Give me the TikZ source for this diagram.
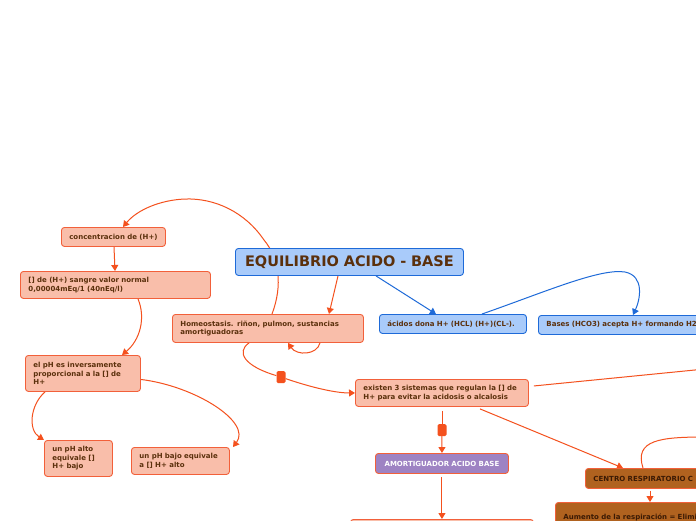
\documentclass[tikz,border=0pt]{standalone}
\usepackage{fontspec}
\setmainfont{DejaVu Sans}
\usetikzlibrary{arrows.meta, backgrounds}

\definecolor{salmon}{HTML}{F9BEAA}
\definecolor{borde}{HTML}{F2603A}
\definecolor{linea}{HTML}{F4511E}
\definecolor{azulclaro}{HTML}{A9CBFA}
\definecolor{azul}{HTML}{1E6AD8}
\definecolor{morado}{HTML}{9E83C3}
\definecolor{cafe}{HTML}{B0621F}
\definecolor{texto}{HTML}{5B300C}
\definecolor{textocafe}{HTML}{3B1A04}

\tikzset{
  caja/.style={draw=borde, fill=salmon, line width=0.9pt, rounded corners=3pt,
    anchor=north west, inner xsep=8pt, inner ysep=0pt, align=left,
    text=texto, font=\fontsize{7}{8.5}\selectfont\bfseries},
  cajaazul/.style={caja, draw=azul, fill=azulclaro},
  cajamorada/.style={caja, fill=morado, text=white, align=center},
  cajacafe/.style={caja, fill=cafe, text=textocafe},
  marca/.style={fill=linea, rounded corners=1.5pt, inner sep=0pt,
    minimum width=9pt, minimum height=12pt},
  conector/.style={draw=linea, line width=1pt, -{Triangle[length=6pt,width=7pt]}},
  conectorazul/.style={conector, draw=azul, -{Triangle[length=6pt,width=7pt]}},
}

\begin{document}
\begin{tikzpicture}[x=1pt, y=-1pt]

  % 1. Marco de la imagen (696 x 520)
  \clip (0,0) rectangle (696,520);

  % 2. Cajas de texto
  \node[cajaazul, text width=212pt, minimum height=27pt, align=center,
    font=\fontsize{14.5}{16}\selectfont\bfseries] (titulo) at (235,248)
    {EQUILIBRIO ACIDO - BASE};
  \node[caja, inner xsep=5pt, text width=94pt, minimum height=19pt, align=center] (concentracion) at (61,227)
    {concentracion de (H+)};
  \node[caja, text width=174pt, minimum height=27pt] (valor) at (20,271)
    {[] de (H+) sangre valor normal\\0,00004mEq/1 (40nEq/l)};
  \node[caja, text width=175pt, minimum height=28pt] (homeostasis) at (172,314)
    {Homeostasis. riñon, pulmon, sustancias\\amortiguadoras};
  \node[caja, text width=99pt, minimum height=36pt] (ph) at (25,355)
    {el pH es inversamente\\proporcional a la [] de\\H+};
  \node[caja, text width=52pt, minimum height=36pt] (phalto) at (44,440)
    {un pH alto\\equivale []\\H+ bajo};
  \node[caja, text width=82pt, minimum height=27pt] (phbajo) at (131,447)
    {un pH bajo equivale\\a [] H+ alto};
  \node[caja, text width=157pt, minimum height=27pt] (sistemas) at (355,379)
    {existen 3 sistemas que regulan la [] de\\H+ para evitar la acidosis o alcalosis};
  \node[cajamorada, text width=117pt, minimum height=20pt] (amortiguador) at (375,453)
    {AMORTIGUADOR ACIDO BASE};
  \node[caja, text width=167pt, minimum height=20pt] (inferior) at (350,519) {};
  \node[cajacafe, text width=150pt, minimum height=20pt] (centro) at (585,468)
    {CENTRO RESPIRATORIO C};
  \node[cajacafe, text width=190pt, minimum height=40pt] (aumento) at (555,502)
    {Aumento de la respiración = Elimi\\ \strut};

  % azules
  \node[cajaazul, text width=131pt, minimum height=19pt] (acidos) at (379,314)
    {ácidos dona H+ (HCL) (H+)(CL-).};
  \node[cajaazul, text width=190pt, minimum height=19pt] (bases) at (538,315)
    {Bases (HCO3) acepta H+ formando H2};

  % marcas cuadradas
  \node[marca] (marca1) at (281,377) {};
  \node[marca] (marca2) at (442,430) {};

  % salidas fuera del cuadro
  \coordinate (salida1) at (705,369);
  \coordinate (salida2) at (705,437);

  % 3. Conectores (detras de las cajas)
  \begin{scope}[on background layer]
  \fill[white] (0,0) rectangle (696,520);
  \draw[conector] ([xshift=100pt]homeostasis.north west)
    .. controls (283,285) and (279,258) .. (264,240)
    .. controls (245,212) and (215,198) .. (185,199)
    .. controls (160,200) and (137,210) .. ([xshift=62pt]concentracion.north west);
  \draw[conector] ([xshift=53pt]concentracion.south west) -- ([xshift=95pt]valor.north west);
  \draw[conector] ([xshift=118pt]valor.south west)
    .. controls (146,318) and (140,340) .. ([xshift=97pt]ph.north west);
  \draw[conector] ([xshift=20pt]ph.south west)
    .. controls (30,405) and (28,430) .. (phalto.north west);
  \draw[conector] ([yshift=-6pt]ph.east)
    .. controls (195,386) and (252,422) .. ([xshift=102pt]phbajo.north west);
  \draw[conector] ([xshift=148pt]homeostasis.south west)
    .. controls (317,355) and (297,356) .. ([xshift=116pt]homeostasis.south west);
  \draw[draw=linea, line width=1pt] ([xshift=77pt]homeostasis.south west)
    .. controls (236,352) and (244,366) .. (marca1);
  \draw[conector] (marca1) .. controls (310,387) and (335,393) .. (sistemas.west);
  \draw[draw=linea, line width=1pt] ([xshift=87pt,yshift=-4pt]sistemas.south west) -- (marca2);
  \draw[conector] (marca2) -- (amortiguador.north);
  \draw[conector] ([yshift=-3pt]amortiguador.south) -- (inferior.north);
  \draw[conector] ([xshift=125pt,yshift=-2pt]sistemas.south west) -- ([xshift=38pt]centro.north west);
  \draw[draw=linea, line width=1pt] ([xshift=5pt,yshift=7pt]sistemas.east) -- (salida1);
  \draw[draw=linea, line width=1pt] ([xshift=58pt]centro.north west)
    .. controls (634,440) and (660,437) .. (salida2);
  \draw[conector] ([xshift=65pt,yshift=-2pt]centro.south west) -- ([xshift=95pt]aumento.north west);
  \draw[conector] ([xshift=103pt]titulo.south west) -- ([xshift=157pt]homeostasis.north west);
  \draw[conectorazul] ([xshift=141pt]titulo.south west) -- ([xshift=57pt]acidos.north west);
  \draw[conectorazul] ([xshift=103pt]acidos.north west)
    .. controls (545,292) and (600,268) .. (625,272)
    .. controls (645,276) and (640,300) .. ([xshift=95pt]bases.north west);
  \end{scope}

\end{tikzpicture}
\end{document}
